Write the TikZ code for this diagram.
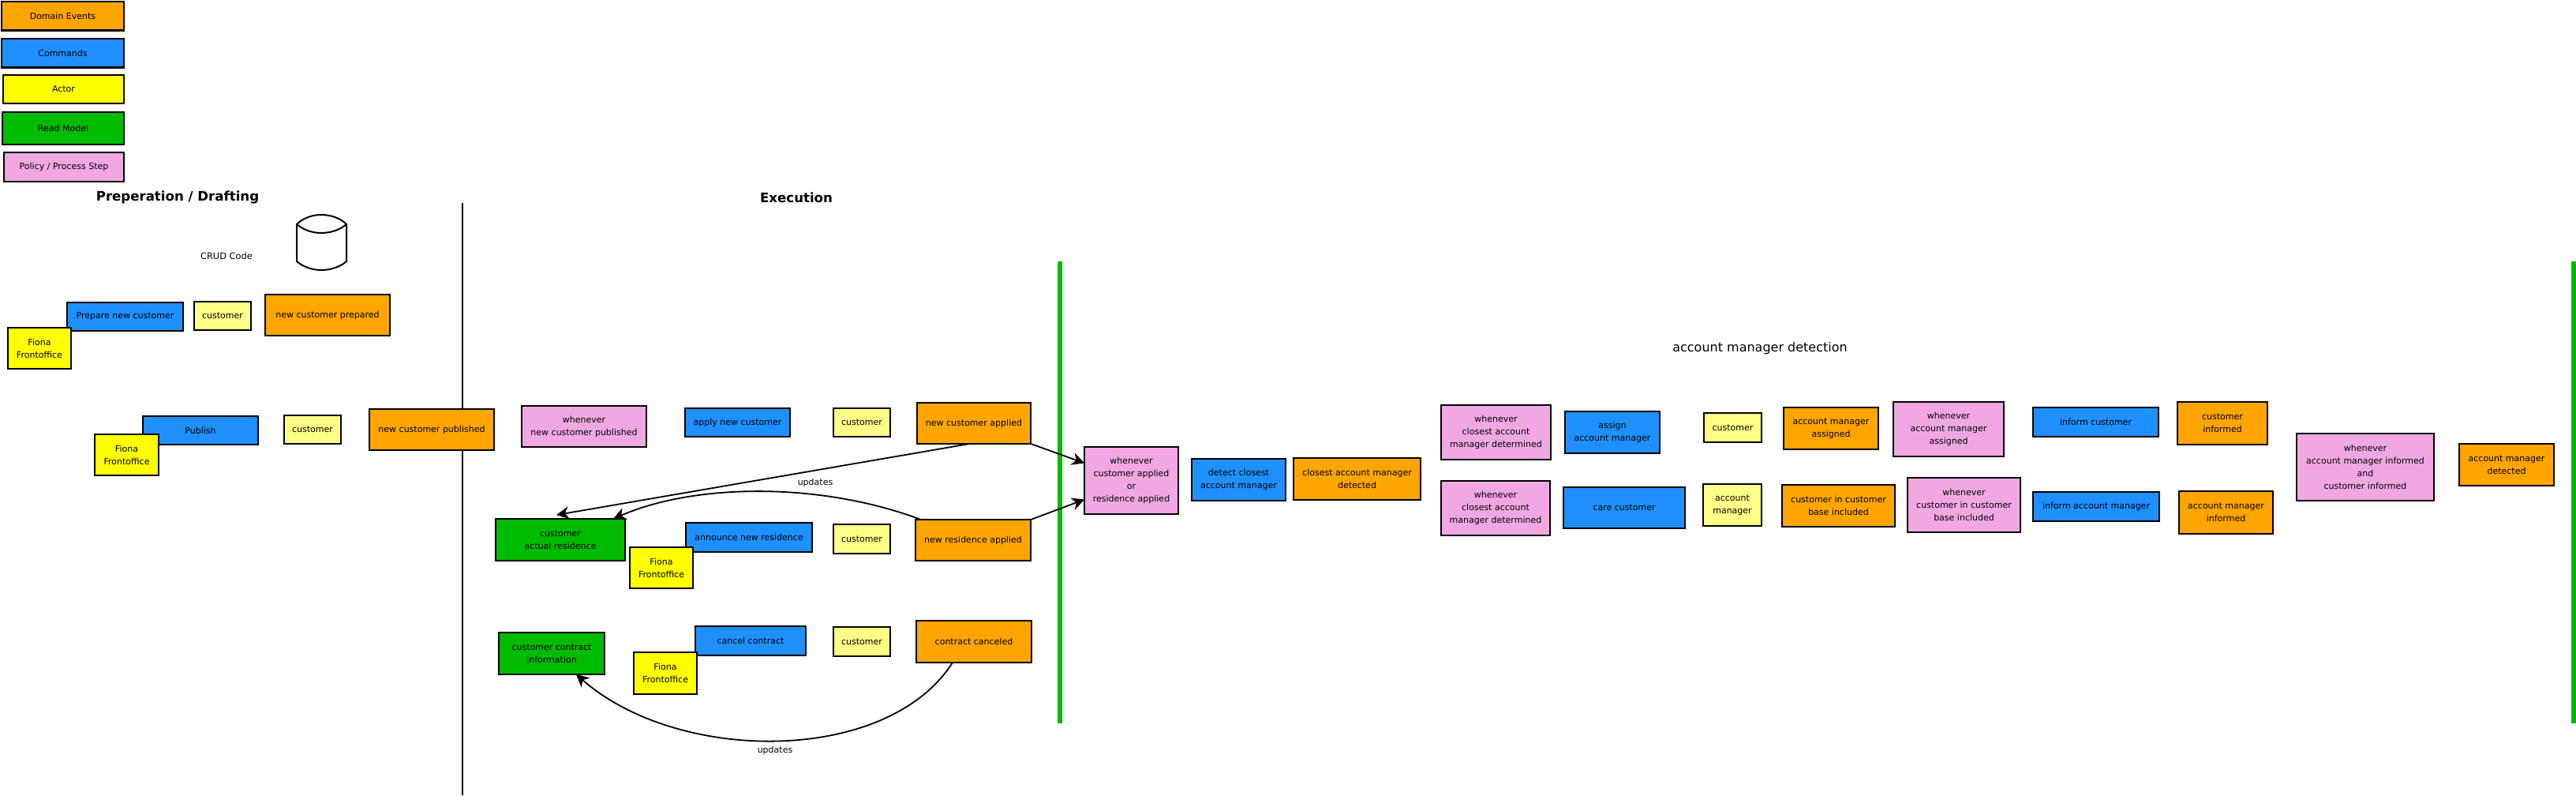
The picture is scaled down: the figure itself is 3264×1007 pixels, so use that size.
\documentclass[tikz,border=0pt]{standalone}
\usepackage{fontspec}
\setmainfont{DejaVu Sans}
\usetikzlibrary{arrows.meta}
\definecolor{cevt}{HTML}{FFA500}
\definecolor{ccmd}{HTML}{1E90FF}
\definecolor{cact}{HTML}{FFFF00}
\definecolor{ccust}{HTML}{FFFF88}
\definecolor{crm}{HTML}{00BB00}
\definecolor{cpol}{HTML}{F1A8E2}
\tikzset{
  stickybox/.style={draw=black,line width=1.1pt,inner sep=0pt,outer sep=0pt,align=center,text=black,font=\fontsize{5.5}{8}\selectfont},
  evt/.style={stickybox,fill=cevt},
  cmd/.style={stickybox,fill=ccmd},
  act/.style={stickybox,fill=cact},
  cust/.style={stickybox,fill=ccust},
  rm/.style={stickybox,fill=crm},
  pol/.style={stickybox,fill=cpol},
  plainlabel/.style={inner sep=0pt,text=black,font=\fontsize{5.7}{8}\selectfont},
  linelabel/.style={inner sep=0pt,text=black,font=\fontsize{5.5}{7}\selectfont},
  divider/.style={draw=black,line width=1pt},
  greenbar/.style={draw=crm,line width=3pt},
  flow/.style={draw=black,line width=0.9pt,-{Stealth[length=8pt,width=8pt,inset=2.5pt]}},
  shapeline/.style={draw=black,line width=1pt,line join=round}
}
\newcommand{\bx}[7]{%
  \pgfmathsetmacro{\bxcx}{(#3+#5)/2}%
  \pgfmathsetmacro{\bxcy}{(#4+#6)/2}%
  \pgfmathsetmacro{\bxw}{(#5-#3-2.2)*0.5}%
  \pgfmathsetmacro{\bxh}{(#6-#4-2.2)*0.5}%
  \node[#2,minimum width=\bxw pt,minimum height=\bxh pt] (#1) at (\bxcx,\bxcy) {#7};%
}
\begin{document}
\begin{tikzpicture}[x=0.5pt,y=-0.5pt]
\useasboundingbox (0,0) rectangle (3264,1007);
\fill[white] (0,0) rectangle (3264,1007);
% dividers
\draw[divider] (586,257) -- (586,1007);
\draw[greenbar] (1343,331) -- (1343,916);
\draw[greenbar] (3261,331) -- (3261,916);
% legend
\bx{lgevt}{evt}{1}{1}{158}{39.5}{Domain Events}
\bx{lgcmd}{cmd}{1}{47.5}{158}{86.5}{Commands}
\bx{lgact}{act}{3}{94}{158}{132}{Actor}
\bx{lgrm}{rm}{2}{141}{158}{184}{Read Model}
\bx{lgpol}{pol}{4}{192}{158}{231}{Policy / Process Step}
% titles
\node[inner sep=0pt,font=\fontsize{8.3}{10}\selectfont\bfseries] (ttlprep) at (225,250) {Preperation / Drafting};
\node[inner sep=0pt,font=\fontsize{8.3}{10}\selectfont\bfseries] (ttlexec) at (1009,250) {Execution};
\node[inner sep=0pt,font=\fontsize{8}{10}\selectfont] (ttlam) at (2230,441) {account manager detection};
\node[plainlabel] (crud) at (287,324) {CRUD Code};
% database
\draw[shapeline,fill=white] (376,284) .. controls (384,276) and (396,272) .. (407,272) .. controls (419,272) and (431,276) .. (439,284) -- (439,331) .. controls (431,338) and (419,342) .. (407,342) .. controls (396,342) and (384,338) .. (376,331) -- cycle;
\draw[shapeline] (376,284) .. controls (384,291) and (396,295) .. (407,295) .. controls (419,295) and (431,291) .. (439,284);
% preparation
\bx{prepcmd}{cmd}{84}{382}{233}{420}{Prepare new customer}
\bx{prepcust}{cust}{245}{381}{319}{419}{customer}
\bx{prepevt}{evt}{335}{372}{495}{426}{new customer prepared}
\bx{prepact}{act}{9}{414}{91}{468}{Fiona\\Frontoffice}
\bx{pubcmd}{cmd}{180}{526}{328}{564}{Publish}
\bx{pubact}{act}{119}{549}{202}{603}{Fiona\\Frontoffice}
\bx{pubcust}{cust}{359}{525}{433}{563}{customer}
\bx{pubevt}{evt}{467}{517}{627}{571}{new customer published}
% execution
\bx{wncp}{pol}{660}{513}{820}{567}{whenever\\new customer published}
\bx{applycmd}{cmd}{867}{516}{1002}{554}{apply new customer}
\bx{applycust}{cust}{1055}{516}{1129}{554}{customer}
\bx{nca}{evt}{1161}{509}{1307}{563}{new customer applied}
\bx{actres}{rm}{627}{656}{793}{711}{customer\\actual residence}
\bx{anncmd}{cmd}{868}{661}{1030}{700}{announce new residence}
\bx{annact}{act}{797}{692}{879}{746}{Fiona\\Frontoffice}
\bx{anncust}{cust}{1055}{663}{1129}{702}{customer}
\bx{nra}{evt}{1159}{657}{1307}{711}{new residence applied}
\bx{continfo}{rm}{631}{800}{767}{855}{customer contract\\information}
\bx{cancmd}{cmd}{880}{792}{1022}{831}{cancel contract}
\bx{canact}{act}{802}{825}{884}{880}{Fiona\\Frontoffice}
\bx{cancust}{cust}{1055}{793}{1129}{832}{customer}
\bx{canevt}{evt}{1160}{785}{1308}{840}{contract canceled}
% account manager detection
\bx{wapp}{pol}{1373}{565}{1494}{652}{whenever\\customer applied\\or\\residence applied}
\bx{detcmd}{cmd}{1509}{580}{1630}{635}{detect closest\\account manager}
\bx{detevt}{evt}{1638}{579}{1801}{634}{closest account manager\\detected}
\bx{wdet}{pol}{1825}{512}{1966}{583}{whenever\\closest account\\manager determined}
\bx{wdetb}{pol}{1825}{608}{1965}{679}{whenever\\closest account\\manager determined}
\bx{asgcmd}{cmd}{1982}{520}{2104}{575}{assign\\account manager}
\bx{carecmd}{cmd}{1980}{616}{2136}{670}{care customer}
\bx{asgcust}{cust}{2158}{522}{2233}{561}{customer}
\bx{caream}{cust}{2157}{612}{2233}{667}{account\\manager}
\bx{asgevt}{evt}{2259}{515}{2381}{570}{account manager\\assigned}
\bx{careevt}{evt}{2257}{613}{2402}{668}{customer in customer\\base included}
\bx{wasg}{pol}{2398}{508}{2540}{579}{whenever\\account manager\\assigned}
\bx{wcare}{pol}{2416}{604}{2561}{675}{whenever\\customer in customer\\base included}
\bx{infccmd}{cmd}{2575}{515}{2736}{554}{inform customer}
\bx{infacmd}{cmd}{2575}{622}{2737}{661}{inform account manager}
\bx{infcevt}{evt}{2758}{508}{2874}{564}{customer\\informed}
\bx{infaevt}{evt}{2760}{621}{2881}{677}{account manager\\informed}
\bx{wboth}{pol}{2909}{548}{3085}{635}{whenever\\account manager informed\\and\\customer informed}
\bx{amdet}{evt}{3115}{561}{3237}{616}{account manager\\detected}
% connectors
\draw[flow] ([xshift=-2.5pt]nca.south) -- ([shift={(-5,-5)}]actres.north);
\draw[flow] ([xshift=-33pt]nra.north) .. controls (1040,610) and (880,612) .. ([xshift=33.5pt]actres.north);
\draw[flow] ([xshift=-13.5pt]canevt.south) .. controls (1125,968) and (860,968) .. ([xshift=15.5pt]continfo.south);
\draw[flow] (nca.south east) -- ([yshift=11pt]wapp.west);
\draw[flow] (nra.north east) -- ([yshift=-12pt]wapp.west);
\node[linelabel] (lblup) at (1033,611) {updates};
\node[linelabel] (lblupb) at (982,950) {updates};
\end{tikzpicture}
\end{document}
